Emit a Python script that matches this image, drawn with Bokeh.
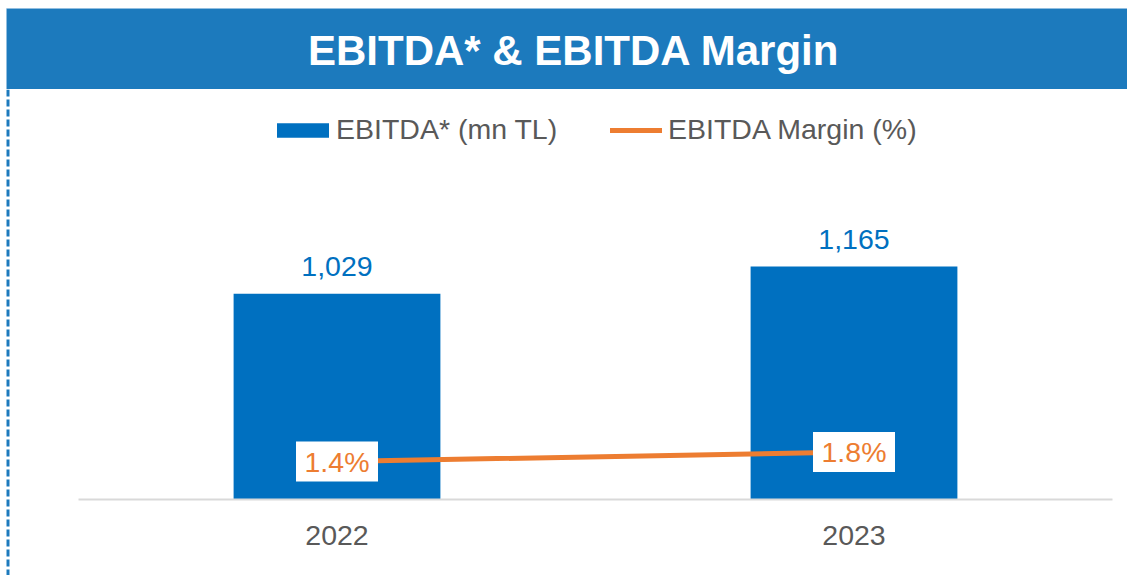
from bokeh.plotting import figure
from bokeh.layouts import column, row
from bokeh.models import (Range1d, FactorRange, BoxAnnotation, Label, LabelSet,
                          Legend, LegendItem, ColumnDataSource, Span)
from bokeh.core.properties import value
from bokeh.embed import file_html
from bokeh.resources import INLINE

# ---- data ----
years = ["2022", "2023"]
ebitda = [1029, 1165]
margin = [1.4, 1.8]
ebitda_labels = ["1,029", "1,165"]
margin_labels = ["1.4%", "1.8%"]
title_text = "EBITDA* & EBITDA Margin"
legend_bar = "EBITDA* (mn TL)"
legend_line = "EBITDA Margin (%)"

FONT = "Liberation Sans"
BLUE = "#0070C0"
BANNER = "#1C7ABD"
ORANGE = "#ED7D31"
GRAY = "#595959"
FS = "28.5px"

W, H = 1127, 575
BH = 89          # banner strip height
SW = 10          # left strip width


def bare(fig):
    fig.outline_line_color = None
    fig.background_fill_color = "white"
    fig.border_fill_color = "white"
    fig.xgrid.visible = False
    fig.ygrid.visible = False
    return fig


# ---------- banner ----------
ban = bare(figure(frame_width=W, frame_height=BH, x_range=Range1d(0, W),
                  y_range=Range1d(0, BH),
                  output_backend="svg", toolbar_location=None, title=None,
                  x_axis_location=None, y_axis_location=None, min_border=0))
ban.add_layout(BoxAnnotation(left=6, right=W, bottom=0, top=81,
                             fill_color=BANNER, fill_alpha=1,
                             line_color="#9DC3E6", line_width=1))
ban.add_layout(Label(x=573.5, y=39.5, text=title_text, text_align="center",
                     text_baseline="middle", text_color="white",
                     text_font_size="42px", text_font_style="bold",
                     text_font=FONT))

# ---------- dashed left strip ----------
strip = bare(figure(frame_width=SW, frame_height=H - BH, x_range=Range1d(0, SW),
                    y_range=Range1d(0, 1), output_backend="svg",
                    toolbar_location=None, title=None,
                    x_axis_location=None, y_axis_location=None, min_border=0))
strip.add_layout(Span(location=7.5, dimension="height", line_color=BANNER,
                      line_width=3, line_dash="7 3"))

# ---------- main chart ----------
src = ColumnDataSource(dict(year=years, ebitda=ebitda, margin=margin,
                            elab=ebitda_labels, mlab=margin_labels))

p = bare(figure(width=W - SW, height=H - BH, title=None,
                x_range=FactorRange(*years, range_padding=0),
                y_range=Range1d(0, 2050),
                output_backend="svg", toolbar_location=None,
                min_border_left=68, min_border_right=15, min_border_top=0,
                min_border_bottom=76, y_axis_location=None))
p.extra_y_ranges = {"m": Range1d(-0.18, 16.9)}

bars = p.vbar(x="year", top="ebitda", width=0.4, source=src,
              fill_color=BLUE, line_color=None)
line = p.line(x="year", y="margin", source=src, y_range_name="m",
              line_color=ORANGE, line_width=5, line_cap="round")
# white boxes behind the margin labels
p.rect(x="year", y="margin", source=src, y_range_name="m",
       width=82, height=40, width_units="screen", height_units="screen",
       fill_color="white", line_color=None)

p.add_layout(LabelSet(x="year", y="ebitda", text="elab", source=src,
                      y_offset=27, text_align="center", text_baseline="middle",
                      text_color=BLUE, text_font_size=FS,
                      text_font=value(FONT)))
p.add_layout(LabelSet(x="year", y="margin", text="mlab", source=src,
                      y_range_name="m", text_align="center",
                      text_baseline="middle", text_color=ORANGE,
                      text_font_size=FS, text_font=value(FONT)))

p.xaxis.axis_line_color = "#D9D9D9"
p.xaxis.axis_line_width = 2
p.xaxis.major_tick_line_color = None
p.xaxis.minor_tick_line_color = None
p.xaxis.major_label_text_font_size = FS
p.xaxis.major_label_text_color = GRAY
p.xaxis.major_label_text_font = FONT
p.xaxis.major_label_standoff = 20

leg_common = dict(orientation="horizontal", glyph_height=18, padding=0,
                  margin=0, border_line_color=None, background_fill_alpha=0,
                  label_text_font_size=FS, label_text_color=GRAY,
                  label_text_font=FONT)
leg1 = Legend(items=[LegendItem(label=legend_bar, renderers=[bars])],
              location=(192, 353), glyph_width=65, label_standoff=1,
              **leg_common)
leg2 = Legend(items=[LegendItem(label=legend_line, renderers=[line])],
              location=(532, 353), glyph_width=52, label_standoff=6,
              **leg_common)
p.add_layout(leg1)
p.add_layout(leg2)

layout = column(ban, row(strip, p, spacing=0), spacing=0)

open("out.html", "w").write(file_html(layout, INLINE))
